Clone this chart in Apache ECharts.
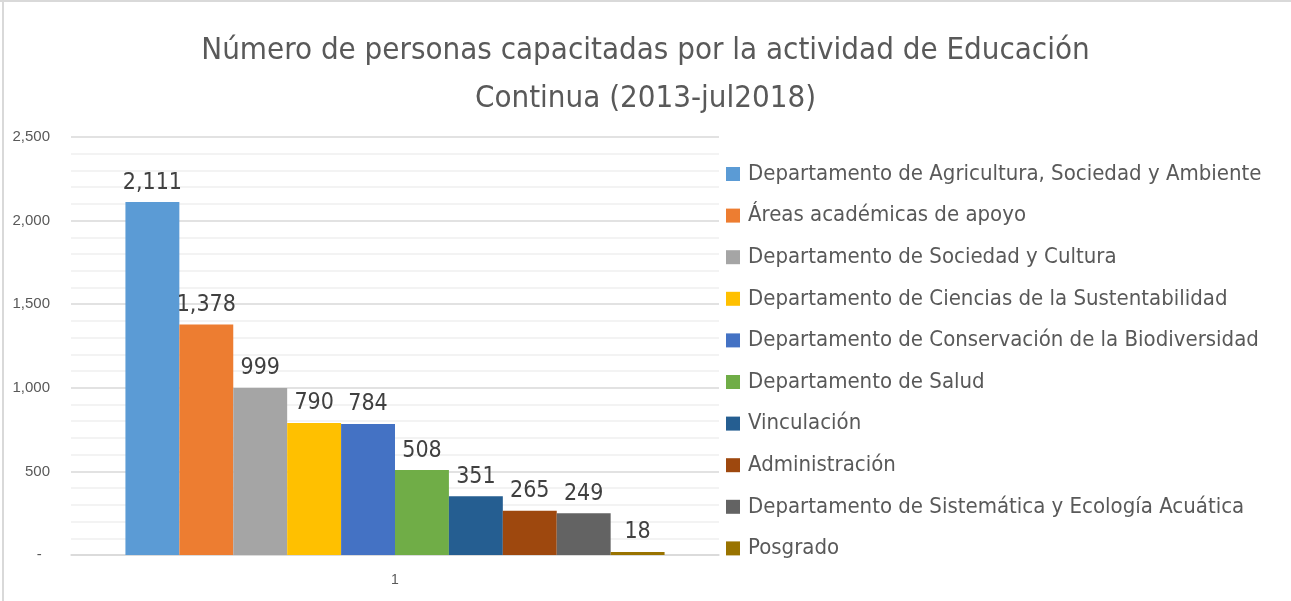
<!DOCTYPE html>
<html>
<head>
<meta charset="utf-8">
<script src="https://cdn.jsdelivr.net/npm/echarts@6/dist/echarts.min.js"></script>
<style>
html,body{margin:0;padding:0;background:#fff;}
#chart{width:1291px;height:601px;position:relative;}
</style>
</head>
<body>
<div id="chart"></div>
<script>
var titleText = 'Número de personas capacitadas por la actividad de Educación\nContinua (2013-jul2018)';
var categories = ['1'];
var seriesNames = [
  'Departamento de Agricultura, Sociedad y Ambiente',
  'Áreas académicas de apoyo',
  'Departamento de Sociedad y Cultura',
  'Departamento de Ciencias de la Sustentabilidad',
  'Departamento de Conservación de la Biodiversidad',
  'Departamento de Salud',
  'Vinculación',
  'Administración',
  'Departamento de Sistemática y Ecología Acuática',
  'Posgrado'
];
var seriesValues = [2111, 1378, 999, 790, 784, 508, 351, 265, 249, 18];
var seriesColors = ['#5B9BD5','#ED7D31','#A5A5A5','#FFC000','#4472C4','#70AD47','#255E91','#9E480E','#636363','#997300'];
var yMin = 0, yMax = 2500, yInterval = 500;

var narrow = "'Liberation Sans Narrow', 'DejaVu Sans Condensed', 'Liberation Sans', Arial, sans-serif";
function fmt(v){ return v.toString().replace(/\B(?=(\d{3})+(?!\d))/g, ','); }
function axisFmt(v){ return v === 0 ? '-  ' : fmt(v); }

var series = seriesNames.map(function(name, i){
  return {
    name: name,
    type: 'bar',
    data: [seriesValues[i]],
    barGap: '0%',
    barCategoryGap: '16.8%',
    itemStyle: { color: seriesColors[i] },
    label: {
      show: true, position: 'top', distance: 8,
      fontFamily: narrow, fontSize: 23, color: '#404040',
      formatter: function(p){ return fmt(p.value); }
    }
  };
});

var chart = echarts.init(document.getElementById('chart'));
chart.setOption({
  animation: false,
  backgroundColor: '#ffffff',
  title: {
    text: titleText, left: 'center', top: 22,
    textStyle: { fontFamily: narrow, fontSize: 31, fontWeight: 'normal', color: '#595959', lineHeight: 48 }
  },
  graphic: [
    { type: 'rect', shape: { x: 0, y: 0, width: 1291, height: 2 }, style: { fill: '#D9D9D9' }, silent: true },
    { type: 'rect', shape: { x: 2, y: 0, width: 2, height: 601 }, style: { fill: '#D9D9D9' }, silent: true }
  ],
  legend: {
    orient: 'vertical', left: 721, top: 157,
    itemWidth: 14, itemHeight: 14, itemGap: 17.6,
    icon: 'rect',
    data: seriesNames,
    textStyle: { fontFamily: narrow, fontSize: 22, color: '#595959', lineHeight: 24, padding: [0,0,0,3] }
  },
  grid: { left: 71, right: 572, top: 137, bottom: 46, containLabel: false },
  xAxis: {
    type: 'category', data: categories,
    axisLine: { lineStyle: { color: '#D9D9D9', width: 1.5 } },
    axisTick: { show: false },
    axisLabel: { fontFamily: "'Liberation Sans', Arial, sans-serif", fontSize: 14, color: '#595959', margin: 18 }
  },
  yAxis: {
    type: 'value', min: yMin, max: yMax, interval: yInterval,
    axisLine: { show: false }, axisTick: { show: false },
    axisLabel: { fontFamily: "'Liberation Sans', Arial, sans-serif", fontSize: 15, color: '#595959', margin: 21, formatter: axisFmt },
    splitLine: { lineStyle: { color: '#D9D9D9', width: 1.5 } },
    minorTick: { show: false, splitNumber: 5 },
    minorSplitLine: { show: true, lineStyle: { color: '#F0F0F0', width: 1.5 } }
  },
  series: series
});
</script>
</body>
</html>
